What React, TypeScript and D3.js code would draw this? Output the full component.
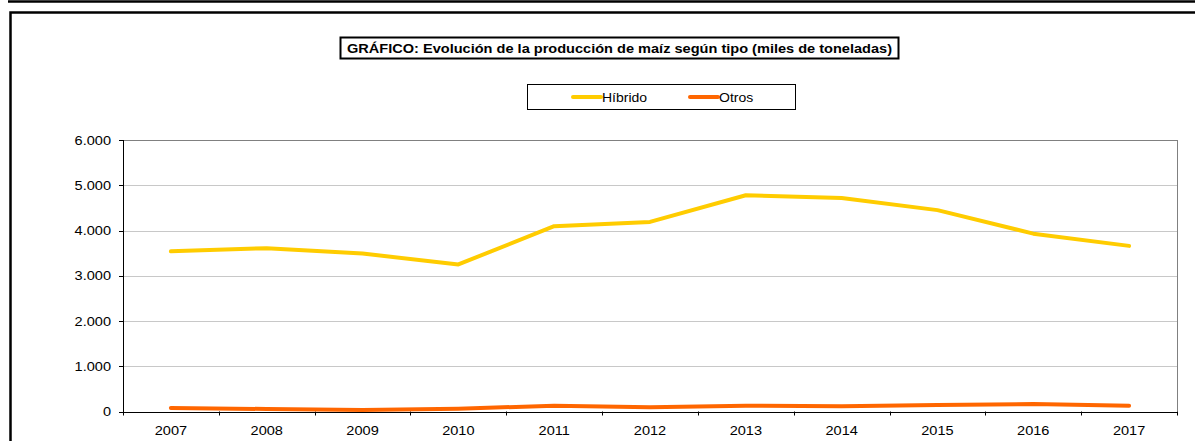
import React from "react";
import * as d3 from "d3";

const years = ["2007", "2008", "2009", "2010", "2011", "2012", "2013", "2014", "2015", "2016", "2017"];
const hibrido = [3540, 3610, 3490, 3250, 4095, 4190, 4780, 4720, 4450, 3930, 3660];
const otros = [80, 55, 35, 62, 128, 92, 128, 115, 143, 166, 128];
const yTicks = [0, 1000, 2000, 3000, 4000, 5000, 6000];
const seriesNames = ["Híbrido", "Otros"];
const seriesColors = ["#FFCC00", "#FF6600"];
const title = "GRÁFICO: Evolución de la producción de maíz según tipo (miles de toneladas)";

const W = 1195;
const H = 441;
const plot = { left: 123, right: 1177, top: 140, bottom: 411.5 };
const font = "'Liberation Sans', Arial, sans-serif";
const SX = 1.12;

function T({ x, y, anchor = "start", size = 13, bold = false, children }: any) {
  return (
    <text
      transform={`translate(${x},${y}) scale(${SX},1)`}
      textAnchor={anchor}
      fontSize={size}
      fontWeight={bold ? "bold" : "normal"}
      fill="#000"
    >
      {children}
    </text>
  );
}

export default function App() {
  const x = d3.scaleBand<string>().domain(years).range([plot.left, plot.right]);
  const y = d3.scaleLinear().domain([0, 6000]).range([plot.bottom, plot.top]);
  const line = d3
    .line<number>()
    .x((_, i) => (x(years[i]) as number) + x.bandwidth() / 2)
    .y((d) => y(d));
  const fmt = (v: number) => d3.format(",")(v).replace(/,/g, ".");
  const series = [hibrido, otros];
  const legendX = [573, 690];

  return (
    <svg
      width={W}
      height={H}
      style={{ position: "absolute", left: 0, top: 0, background: "#fff" }}
      fontFamily={font}
    >
      <rect x={0} y={0} width={W} height={H} fill="#fff" />
      {/* top frame line */}
      <line x1={8} x2={W} y1={1.5} y2={1.5} stroke="#000" strokeWidth={2.5} />
      {/* outer chart box */}
      <rect x={10.5} y={12.5} width={W + 20} height={H + 20} fill="none" stroke="#000" strokeWidth={2.5} />

      {/* title */}
      <rect x={340.5} y={37.5} width={558} height={21} fill="#fff" stroke="#000" strokeWidth={2} />
      <T x={619.5} y={52.5} anchor="middle" size={13} bold>
        {title}
      </T>

      {/* legend */}
      <rect x={527.5} y={84.5} width={268} height={25} fill="#fff" stroke="#000" strokeWidth={1} />
      {seriesNames.map((n, i) => (
        <g key={n}>
          <line x1={legendX[i]} x2={legendX[i] + 28} y1={97} y2={97} stroke={seriesColors[i]} strokeWidth={4} strokeLinecap="round" />
          <T x={legendX[i] + 29} y={101.5} size={12.5}>
            {n}
          </T>
        </g>
      ))}

      {/* gridlines */}
      {yTicks.map((t) => (
        <line
          key={t}
          x1={plot.left}
          x2={plot.right}
          y1={Math.round(y(t)) + 0.5}
          y2={Math.round(y(t)) + 0.5}
          stroke={t === 6000 ? "#808080" : t === 0 ? "none" : "#c8c8c8"}
          strokeWidth={1}
        />
      ))}
      <line x1={plot.right + 0.5} x2={plot.right + 0.5} y1={plot.top} y2={plot.bottom} stroke="#808080" />

      {/* y axis */}
      <line x1={plot.left + 0.5} x2={plot.left + 0.5} y1={plot.top} y2={plot.bottom + 4} stroke="#000" />
      {yTicks.map((t) => (
        <g key={t}>
          <line x1={plot.left - 4} x2={plot.left} y1={Math.round(y(t)) + 0.5} y2={Math.round(y(t)) + 0.5} stroke="#000" />
          <T x={111} y={y(t) + 4.5} anchor="end" size={13}>
            {fmt(t)}
          </T>
        </g>
      ))}

      {/* x axis */}
      <line x1={plot.left} x2={plot.right + 1} y1={Math.round(plot.bottom) + 0.5} y2={Math.round(plot.bottom) + 0.5} stroke="#000" />
      {years.map((yr, i) => {
        const bx = Math.round(x(yr) as number) + 0.5;
        return (
          <g key={yr}>
            {i > 0 && <line x1={bx} x2={bx} y1={plot.bottom} y2={plot.bottom + 4} stroke="#000" />}
            <T x={(x(yr) as number) + x.bandwidth() / 2} y={434.5} anchor="middle" size={13}>
              {yr}
            </T>
          </g>
        );
      })}
      <line x1={plot.right + 0.5} x2={plot.right + 0.5} y1={plot.bottom} y2={plot.bottom + 4} stroke="#000" />

      {/* series */}
      {series.map((s, i) => (
        <path key={i} d={line(s) as string} fill="none" stroke={seriesColors[i]} strokeWidth={4} strokeLinecap="round" strokeLinejoin="round" />
      ))}
    </svg>
  );
}
